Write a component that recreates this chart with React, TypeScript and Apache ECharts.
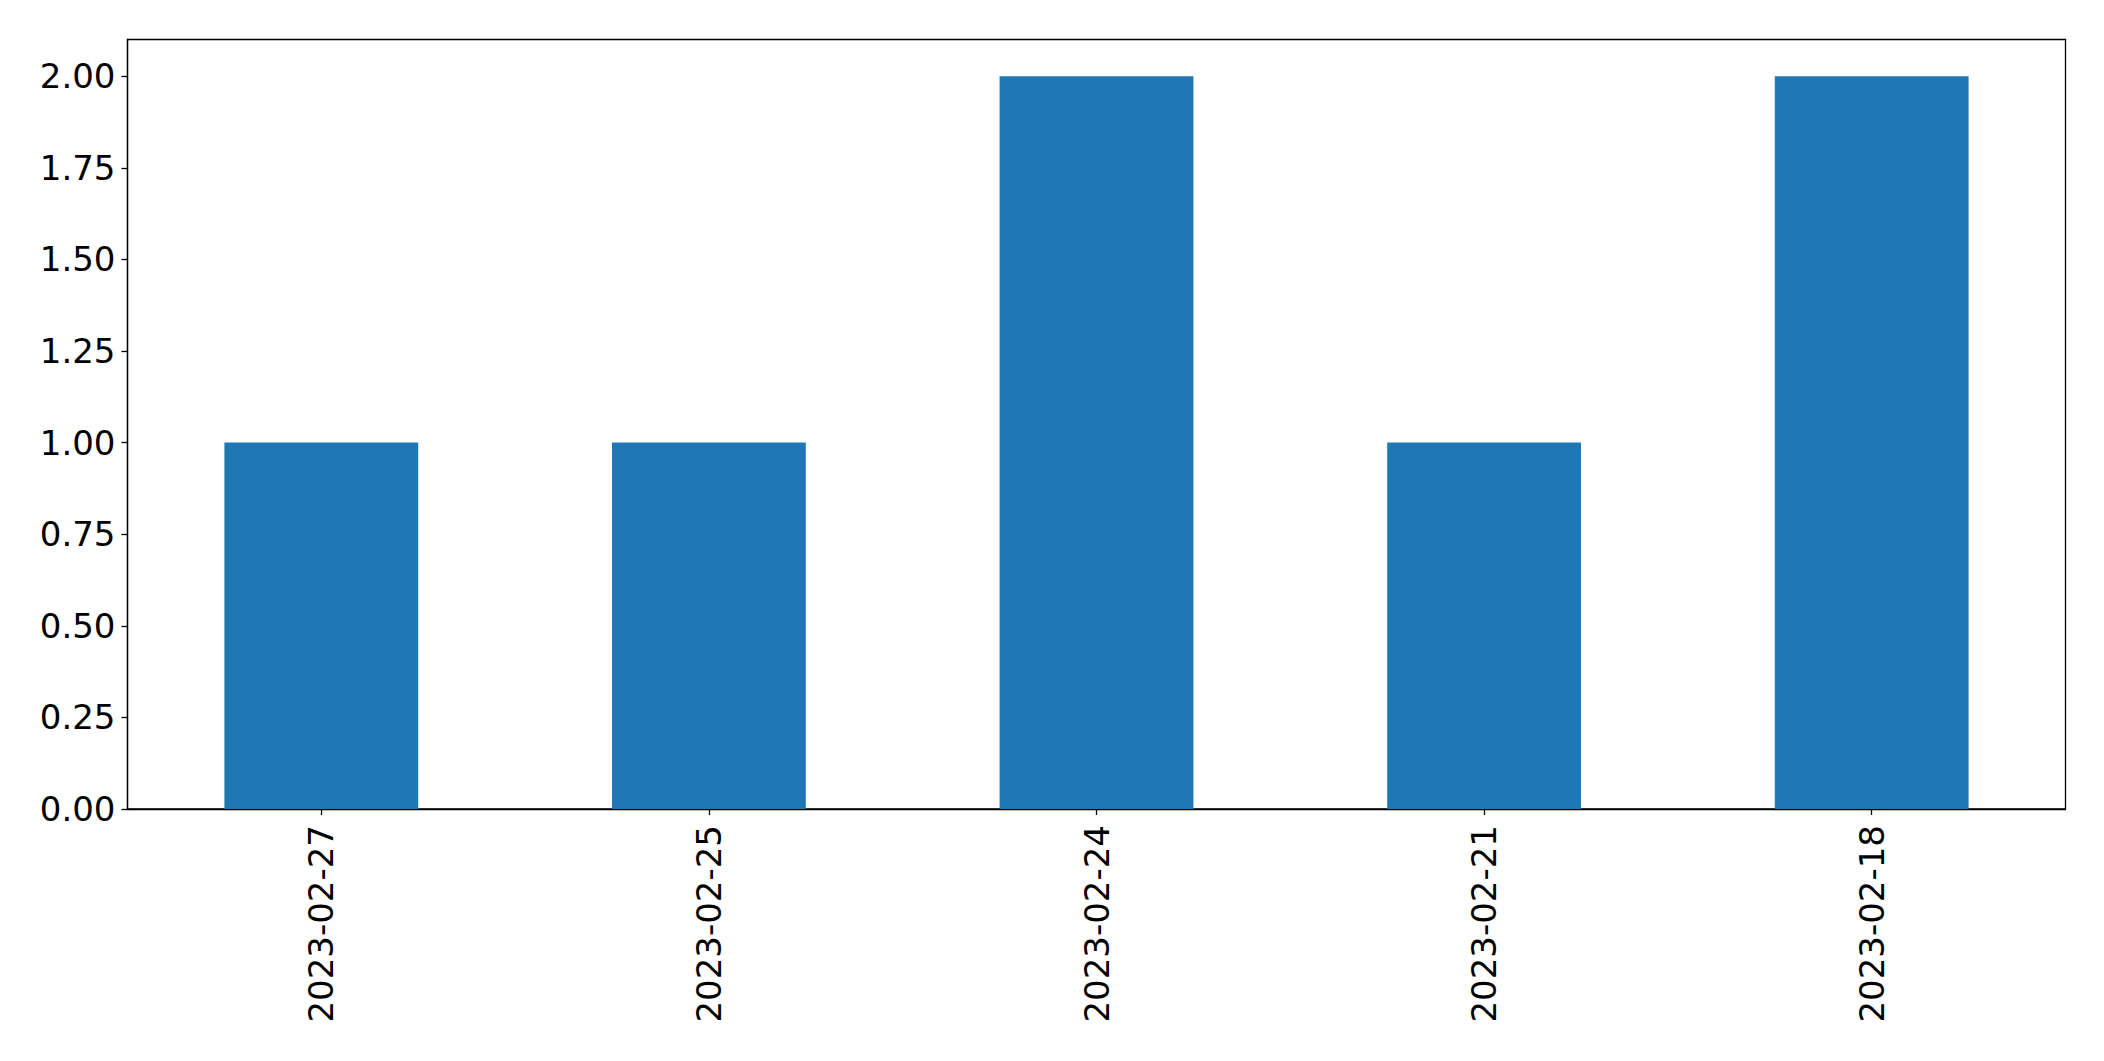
import React, { useEffect, useRef } from "react";
import * as echarts from "echarts";

const categories = ["2023-02-27", "2023-02-25", "2023-02-24", "2023-02-21", "2023-02-18"];
const counts = [1, 1, 2, 1, 2];
const yTicks = [0, 0.25, 0.5, 0.75, 1.0, 1.25, 1.5, 1.75, 2.0];

export default function App() {
  const ref = useRef<HTMLDivElement>(null);
  useEffect(() => {
    if (!ref.current) return;
    const chart = echarts.init(ref.current, null, { renderer: "svg" });
    const font = "DejaVu Sans";
    chart.setOption({
      animation: false,
      backgroundColor: "#ffffff",
      grid: {
        left: 127.5,
        right: 38.5,
        top: 39.5,
        bottom: 252,
        show: true,
        borderColor: "#000000",
        borderWidth: 1.3,
        backgroundColor: "transparent",
      },
      xAxis: {
        type: "category",
        data: categories,
        axisLine: { show: true, lineStyle: { color: "#000", width: 1.3 } },
        axisTick: { show: true, alignWithLabel: true, length: 6, lineStyle: { color: "#000", width: 1.3 } },
        axisLabel: {
          rotate: 90,
          margin: 16,
          fontSize: 34,
          fontFamily: font,
          color: "#000",
          interval: 0,
        },
        splitLine: { show: false },
      },
      yAxis: {
        type: "value",
        min: 0,
        max: 2.1,
        axisLine: { show: true, lineStyle: { color: "#000", width: 1.3 } },
        axisTick: { show: true, length: 6, lineStyle: { color: "#000", width: 1.3 }, customValues: yTicks },
        axisLabel: {
          margin: 12,
          fontSize: 34,
          fontFamily: font,
          color: "#000",
          customValues: yTicks,
          formatter: (v: number) => v.toFixed(2),
        },
        splitLine: { show: false },
      },
      series: [
        {
          type: "bar",
          data: counts,
          barWidth: "50%",
          itemStyle: { color: "#1f77b4" },
        },
      ],
    });
    return () => chart.dispose();
  }, []);
  return (
    <div
      ref={ref}
      style={{ position: "fixed", left: 0, top: 0, width: 2104, height: 1061, background: "#fff" }}
    />
  );
}
